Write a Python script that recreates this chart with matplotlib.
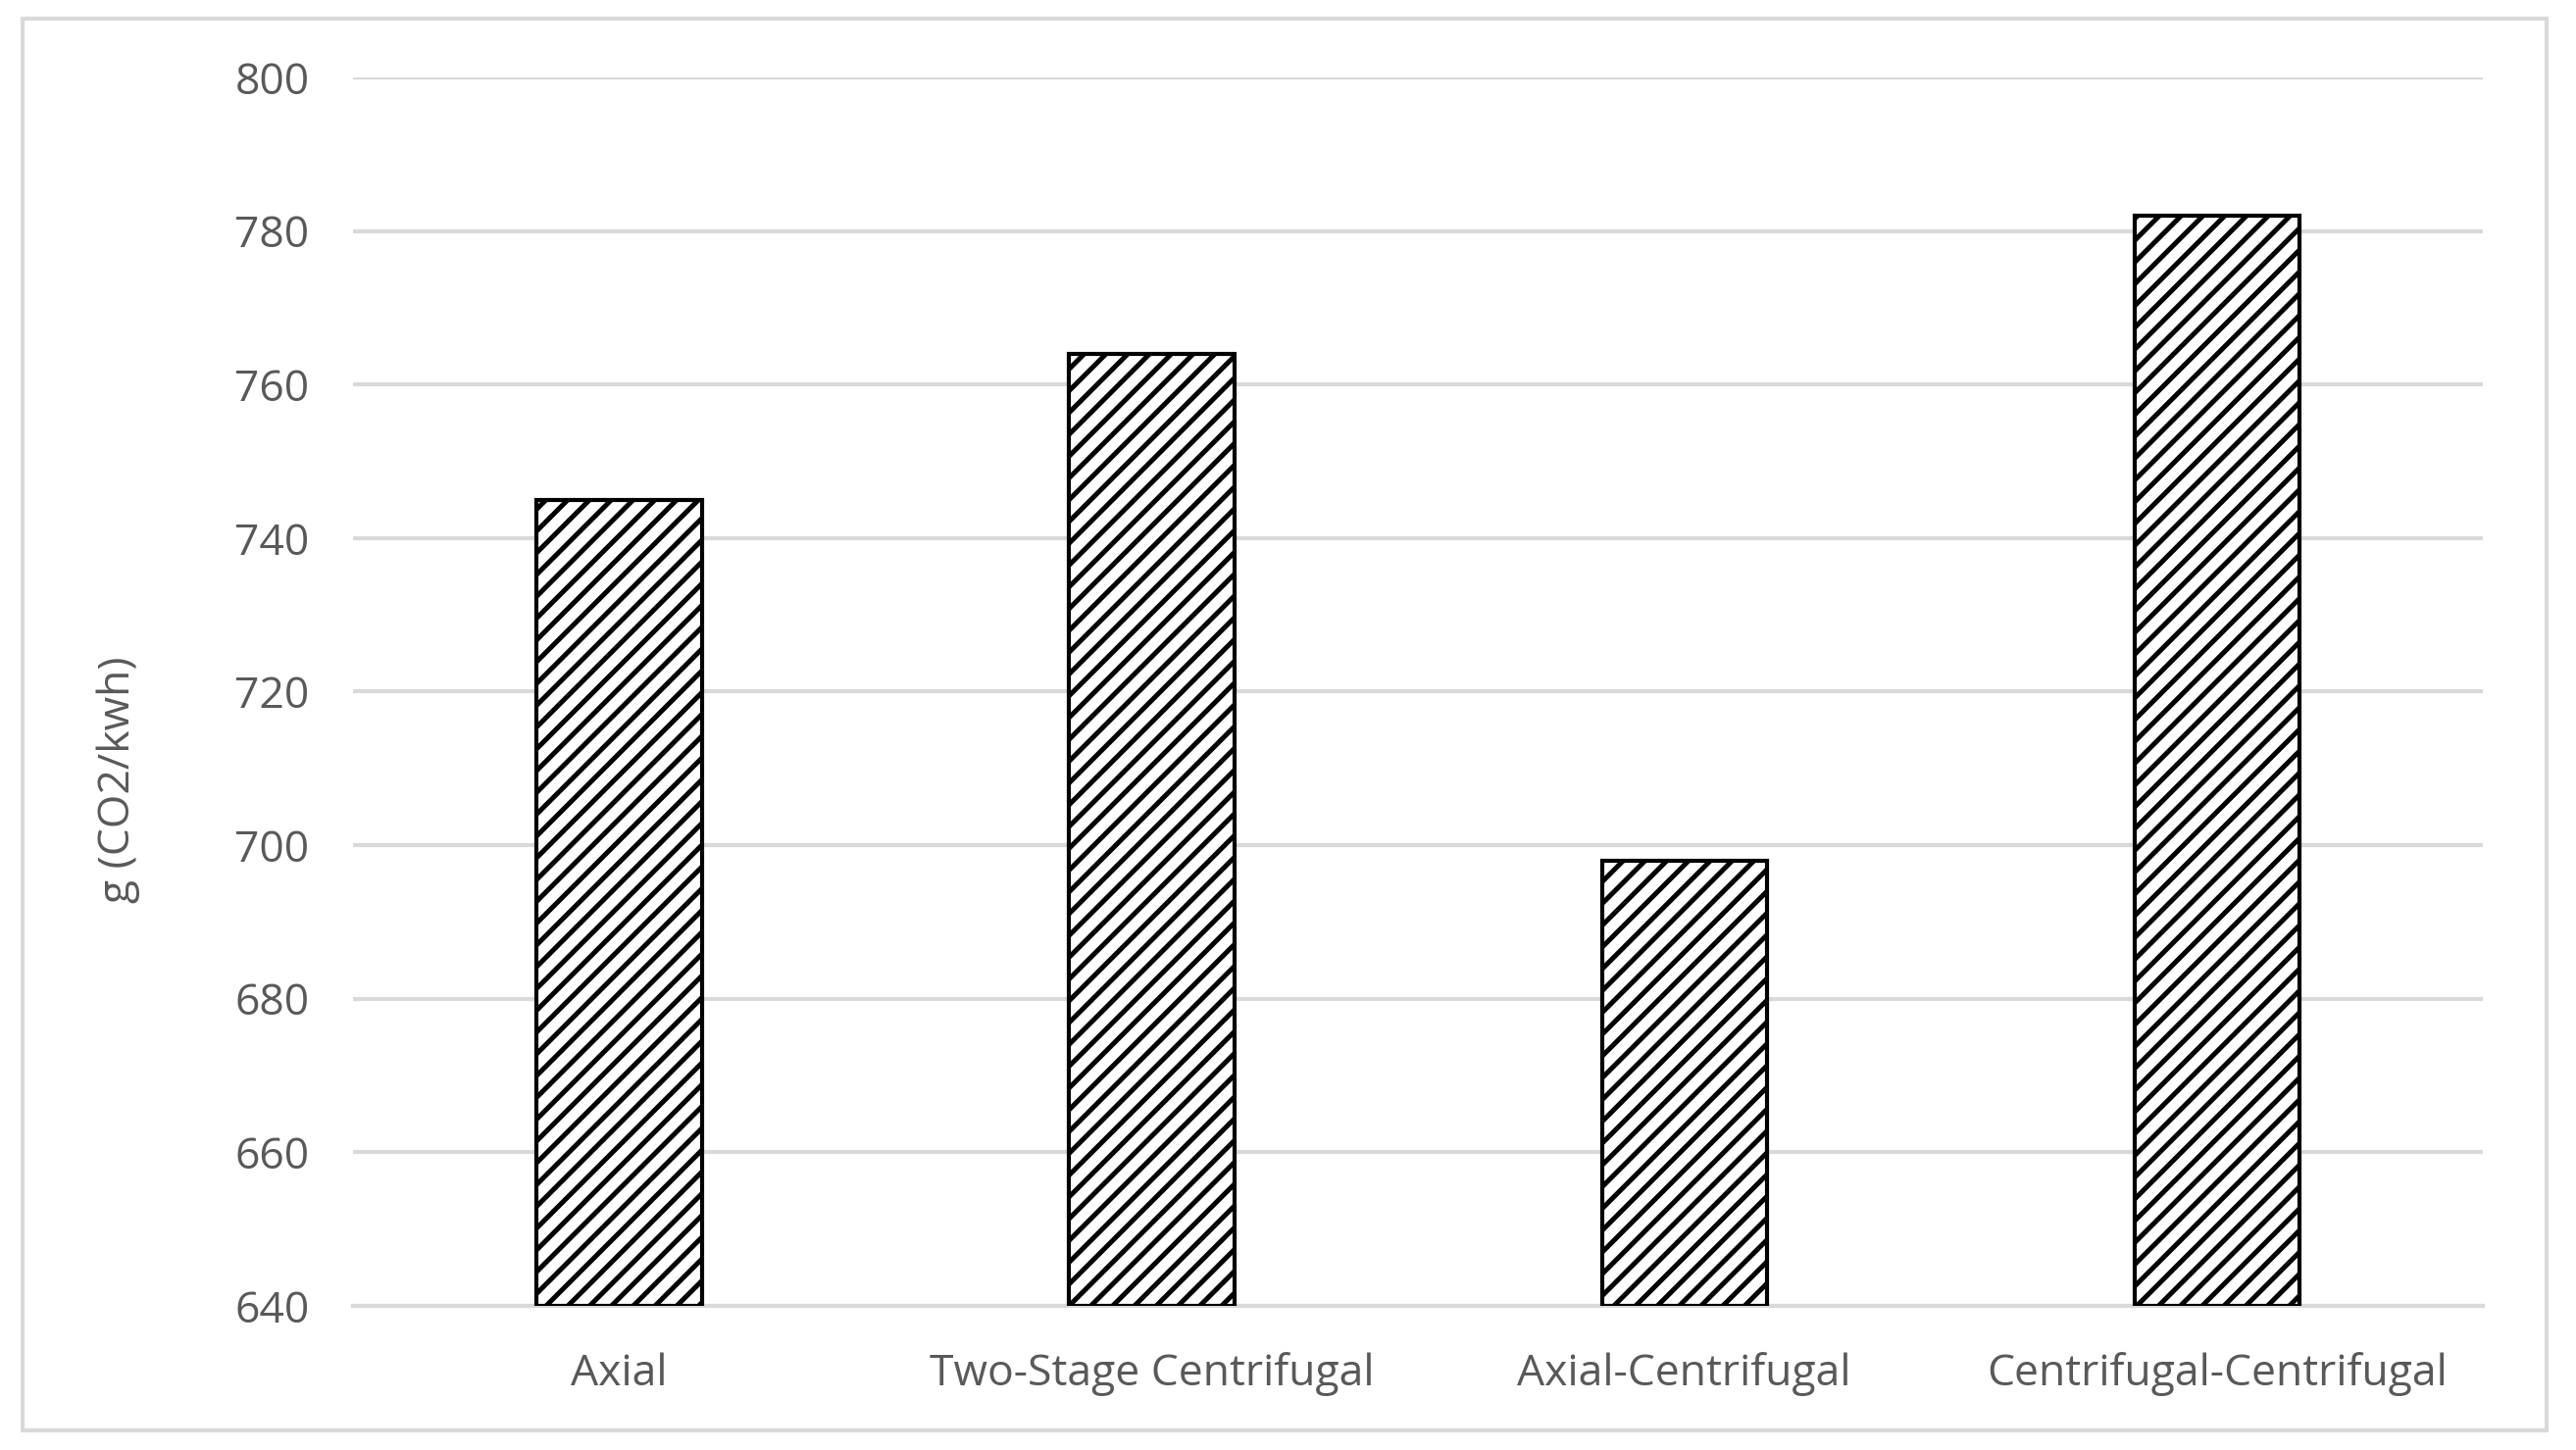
import matplotlib.pyplot as plt
from matplotlib.patches import Rectangle

categories = ['Axial', 'Two-Stage Centrifugal', 'Axial-Centrifugal',
              'Centrifugal-Centrifugal']
values = [745, 764, 698, 782]
yticks = [640, 660, 680, 700, 720, 740, 760, 780, 800]

plt.rcParams['font.family'] = ['Open Sans', 'DejaVu Sans']
plt.rcParams['hatch.linewidth'] = 1.8
plt.rcParams['hatch.color'] = '#2e3a4e'


def main():
    fig = plt.figure(figsize=(13.135, 7.395), dpi=200)
    ax = fig.add_axes([0.137, 0.0994, 0.827, 0.8472])

    ax.bar(range(len(categories)), [v - yticks[0] for v in values],
           bottom=yticks[0], width=0.31, color='white', edgecolor='black',
           linewidth=1.5, hatch='///', zorder=3)

    ax.set_xlim(-0.5, len(categories) - 0.5)
    ax.set_ylim(yticks[0], yticks[-1])
    ax.set_yticks(yticks)
    ax.set_xticks(range(len(categories)))
    ax.set_xticklabels(categories)
    ax.grid(axis='y', color='#d9d9d9', linewidth=1.5, zorder=0)
    for s in ['top', 'right', 'left']:
        ax.spines[s].set_visible(False)
    ax.spines['bottom'].set_color('#d9d9d9')
    ax.spines['bottom'].set_linewidth(1.5)
    ax.tick_params(length=0, labelsize=16, colors='#595959')
    ax.tick_params(axis='y', pad=16)
    ax.tick_params(axis='x', pad=17)

    fig.text(0.046, 0.462, 'g (CO2/kwh)', rotation=90, ha='center',
             va='center', fontsize=16, color='#595959')

    # outer chart border
    fig.patches.append(Rectangle((23 / 2627, 1 - 1459 / 1479),
                                 2574 / 2627, 1440 / 1479,
                                 transform=fig.transFigure, fill=False,
                                 edgecolor='#d9d9d9', linewidth=1.5))

    fig.savefig('out.png', dpi=200, facecolor='white')


if __name__ == '__main__':
    main()
